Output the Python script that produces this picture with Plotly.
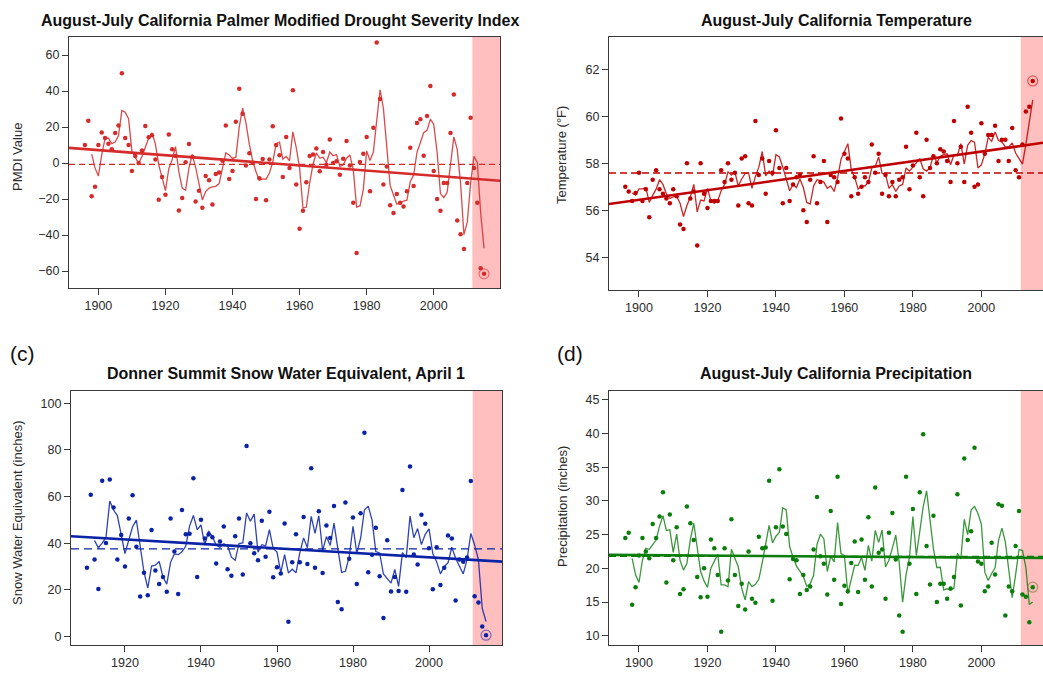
import numpy as np
import pandas as pd
import plotly.graph_objects as go

# ---------------- data ----------------
years_pmdi = list(range(1896, 2016))
pmdi = [10.0, 23.5, -18.5, -13.1, 10.0, 17.0, 13.9, 10.7, 7.6, 16.7,
        20.9, 49.8, 13.9, 10.0, -4.4, 3.9, 0.0, 6.9, 20.6, 14.3,
        15.4, 1.9, -20.4, -7.8, -17.6, 15.9, 7.6, 3.9, -26.3, -19.4,
        0.4, 10.6, 3.3, -21.3, -15.4, -24.8, -7.2, -9.6, -23.0, -6.1,
        -5.2, 1.3, 20.9, -8.9, -4.4, 23.0, 41.3, 27.4, -1.3, 5.4,
        0.0, -20.0, -8.5, 2.2, -20.7, 1.9, 20.4, 10.0, 4.3, -7.8,
        14.4, -2.8, 40.4, -11.9, -36.5, -26.5, -10.7, 3.9, 4.8, 8.1,
        -4.6, 6.1, -1.0, 13.1, 0.0, 1.0, -6.5, 2.4, 12.2, -1.3,
        -22.0, -50.0, 0.6, 5.2, 14.4, -15.6, 19.6, 66.9, 35.6, -11.9,
        -1.9, -23.5, -27.8, -17.2, -22.0, -24.1, -15.7, 8.5, -12.8, 22.2,
        24.3, 4.1, 26.1, 42.8, -4.4, -20.0, -26.5, -11.1, -11.1, 16.7,
        38.0, -31.9, -39.6, -47.8, -11.1, 25.2, -2.8, -22.0, -58.5, -61.5]

years_temp = list(range(1896, 2016))
temp = [57.0, 56.8, 56.4, 56.74, 57.6, 56.4, 56.9, 55.7, 57.3, 57.7,
        56.9, 56.7, 56.5, 56.3, 56.9, 56.6, 55.4, 55.2, 58.0, 56.5,
        56.8, 54.5, 58.0, 56.7, 56.1, 56.4, 56.4, 56.4, 57.7, 57.2,
        58.0, 57.3, 57.6, 56.2, 58.2, 58.3, 56.3, 56.2, 59.8, 57.5,
        58.2, 56.7, 58.1, 57.6, 59.4, 57.8, 56.3, 57.8, 56.4, 57.1,
        57.4, 57.5, 56.0, 55.5, 57.3, 58.3, 56.3, 57.2, 58.1, 55.5,
        57.5, 57.4, 57.2, 59.9, 58.4, 58.2, 56.6, 57.4, 56.7, 57.0,
        57.4, 57.2, 58.8, 57.6, 58.4, 56.7, 57.5, 56.6, 57.2, 56.6,
        57.3, 57.4, 58.7, 56.9, 57.9, 59.3, 57.4, 56.6, 59.0, 57.8,
        58.3, 58.0, 58.6, 58.5, 58.1, 57.2, 59.8, 58.0, 58.7, 57.2,
        60.4, 59.3, 57.0, 57.1, 59.7, 58.4, 59.2, 59.2, 59.6, 58.1,
        59.0, 59.0, 58.1, 59.5, 57.7, 57.4, 58.8, 60.2, 60.4, 61.5]

years_swe = list(range(1910, 2016))
swe = [29.5, 60.8, 33.0, 20.3, 66.8, 40.1, 67.3, 55.3, 33.0, 43.5,
       30.0, 50.6, 60.6, 38.5, 17.1, 27.3, 17.7, 45.6, 28.3, 22.5,
       25.5, 19.2, 50.6, 36.4, 18.2, 54.2, 43.8, 44.0, 67.9, 25.5,
       50.0, 42.0, 43.7, 42.5, 31.3, 40.7, 47.2, 28.8, 26.0, 43.0,
       50.6, 26.6, 81.7, 40.0, 35.7, 32.7, 49.6, 34.2, 53.5, 25.4,
       29.7, 27.0, 48.4, 6.3, 31.8, 43.8, 31.8, 51.2, 31.1, 72.2,
       29.4, 53.7, 27.2, 47.6, 42.2, 56.0, 14.7, 11.6, 57.5, 33.3,
       51.0, 22.5, 52.8, 87.4, 27.5, 35.0, 46.6, 25.8, 7.9, 41.3,
       19.3, 25.5, 19.5, 62.8, 19.1, 72.9, 35.1, 30.8, 52.2, 48.3,
       37.8, 20.2, 38.2, 22.1, 29.4, 43.3, 42.0, 15.4, 33.0, 32.0,
       33.8, 66.7, 17.2, 14.5, 4.2, 0.5]

years_prcp = list(range(1896, 2016))
prcp = [24.5, 25.3, 14.6, 17.2, 21.9, 24.5, 22.5, 21.5, 26.6, 24.5,
        27.7, 31.3, 17.9, 28.0, 21.2, 26.1, 16.2, 16.9, 29.2, 26.7,
        24.2, 18.7, 15.7, 20.0, 15.8, 24.3, 23.0, 19.0, 10.6, 23.0,
        18.2, 27.3, 19.0, 14.4, 17.7, 13.9, 22.5, 15.5, 14.9, 24.7,
        23.0, 23.1, 33.0, 15.2, 26.1, 34.7, 26.2, 25.1, 18.4, 21.4,
        21.2, 16.2, 19.0, 16.8, 17.3, 22.8, 30.6, 21.8, 20.7, 16.1,
        28.5, 18.3, 33.6, 14.7, 17.4, 16.6, 20.8, 24.0, 16.5, 24.3,
        18.3, 27.6, 17.3, 32.0, 22.3, 22.8, 15.5, 25.3, 28.2, 21.3,
        13.0, 10.6, 33.6, 20.7, 28.8, 16.2, 31.3, 39.9, 23.3, 17.6,
        27.8, 15.0, 17.7, 17.7, 15.5, 17.0, 18.7, 31.0, 14.5, 36.3,
        24.2, 25.5, 37.9, 21.0, 20.7, 16.6, 17.3, 23.8, 19.1, 29.5,
        29.3, 13.0, 17.3, 16.6, 23.3, 28.5, 16.1, 15.8, 12.0, 17.2]

titles = ["August-July California Palmer Modified Drought Severity Index",
          "August-July California Temperature",
          "Donner Summit Snow Water Equivalent, April 1",
          "August-July California Precipitation"]
ytitles = ["PMDI Value", "Temperature (°F)",
           "Snow Water Equivalent (inches)", "Precipitation (inches)"]
drought_start = 2011.5

# ---------------- layout helpers ----------------
W, H = 1043, 673
FONT = "Liberation Sans, Arial, Helvetica, sans-serif"
TXT = "#2b2b2b"
FRAME = "#3a3a3a"


def fx(p):
    return p / W


def fy(p):
    return 1 - p / H


panels = [
    dict(x=years_pmdi, y=pmdi, c="#d52b2b", lc="rgba(213,43,43,0.85)",
         cc="rgba(213,43,43,0.55)", dash="6px,4px",
         xd=(69, 500), yd=(37, 288), xr=(1891.24, 2019.76), yr=(-69.4, 70.0),
         tv=list(range(-60, 61, 20)), xt=list(range(1900, 2001, 20)),
         tpos=(280, 20), ypos=(17, 157), mirror=True),
    dict(x=years_temp, y=temp, c="#c00000", lc="rgba(192,0,0,0.85)",
         cc="rgba(192,0,0,0.55)", dash="7px,4px",
         xd=(609, 1043), yd=(37, 290), xr=(1891.24, 2018.0), yr=(52.61, 63.37),
         tv=list(range(54, 63, 2)), xt=list(range(1900, 2001, 20)),
         tpos=(836, 20), ypos=(562, 155), mirror=False),
    dict(x=years_swe, y=swe, c="#0a22a6", lc="rgba(10,34,166,0.85)",
         cc="rgba(10,34,166,0.55)", dash="8px,5px",
         xd=(71, 502), yd=(391, 645), xr=(1905.8, 2019.2), yr=(-3.7, 105.3),
         tv=list(range(0, 101, 20)), xt=list(range(1920, 2001, 20)),
         tpos=(286, 373), ypos=(17, 513), mirror=True),
    dict(x=years_prcp, y=prcp, c="#0a7d0a", lc="rgba(10,125,10,0.8)",
         cc="rgba(120,110,60,0.6)", dash="7px,4px",
         xd=(609, 1043), yd=(391, 645), xr=(1891.24, 2018.0), yr=(8.62, 46.33),
         tv=list(range(10, 46, 5)), xt=list(range(1900, 2001, 20)),
         tpos=(836, 373), ypos=(562, 507), mirror=False),
]

fig = go.Figure()
layout = dict(width=W, height=H, margin=dict(l=0, r=0, t=0, b=0),
              paper_bgcolor="white", plot_bgcolor="white", showlegend=False,
              font=dict(family=FONT, color=TXT, size=12.5))
annotations = []
shapes = []

for i, p in enumerate(panels):
    k = "" if i == 0 else str(i + 1)
    xa, ya = "x" + k, "y" + k
    xs = np.array(p["x"], dtype=float)
    ys = np.array(p["y"], dtype=float)
    roll = pd.Series(ys).rolling(3).mean().to_numpy()
    slope, icpt = np.polyfit(xs, ys, 1)
    mean = ys.mean()
    xline = np.array([p["xr"][0], 2019.76])

    # running mean line
    fig.add_trace(go.Scatter(x=xs, y=roll, mode="lines", xaxis=xa, yaxis=ya,
                             line=dict(color=p["lc"], width=1.3),
                             hoverinfo="skip"))
    # long-term mean (dashed)
    fig.add_trace(go.Scatter(x=xline, y=[mean, mean], mode="lines",
                             xaxis=xa, yaxis=ya,
                             line=dict(color=p["c"], width=1.3, dash=p["dash"]),
                             hoverinfo="skip"))
    # linear trend
    fig.add_trace(go.Scatter(x=xline, y=icpt + slope * xline, mode="lines",
                             xaxis=xa, yaxis=ya,
                             line=dict(color=p["c"], width=2.6),
                             hoverinfo="skip"))
    # annual points
    fig.add_trace(go.Scatter(x=xs, y=ys, mode="markers", xaxis=xa, yaxis=ya,
                             marker=dict(color=p["c"], size=4.5,
                                         line=dict(width=0))))
    # circled latest year
    fig.add_trace(go.Scatter(x=xs[-1:], y=ys[-1:], mode="markers",
                             xaxis=xa, yaxis=ya,
                             marker=dict(symbol="circle-open", size=10,
                                         color=p["cc"], line=dict(width=1.2))))

    layout["xaxis" + k] = dict(
        domain=[fx(p["xd"][0]), fx(p["xd"][1])], range=list(p["xr"]),
        anchor=ya, tickvals=p["xt"], ticks="outside", ticklen=6, tickwidth=1,
        tickcolor=FRAME, showline=True, linecolor=FRAME, linewidth=1.3,
        mirror=True, showgrid=False, zeroline=False,
        tickfont=dict(family=FONT, size=12.5, color=TXT))
    layout["yaxis" + k] = dict(
        domain=[fy(p["yd"][1]), fy(p["yd"][0])], range=list(p["yr"]),
        anchor=xa, tickvals=p["tv"], ticks="outside", ticklen=6, tickwidth=1,
        tickcolor=FRAME, showline=True, linecolor=FRAME, linewidth=1.3,
        mirror=p["mirror"], showgrid=False, zeroline=False,
        tickfont=dict(family=FONT, size=12.5, color=TXT))

    shapes.append(dict(type="rect", xref=xa, yref=ya + " domain",
                       x0=drought_start, x1=p["xr"][1] + 5, y0=0, y1=1,
                       fillcolor="#ffbfbf", line=dict(width=0), layer="below"))

    annotations.append(dict(text="<b>" + titles[i] + "</b>", xref="paper",
                            yref="paper", x=fx(p["tpos"][0]), y=fy(p["tpos"][1]),
                            xanchor="center", yanchor="middle", showarrow=False,
                            font=dict(family=FONT, size=16, color="#111")))
    annotations.append(dict(text=ytitles[i], xref="paper", yref="paper",
                            x=fx(p["ypos"][0]), y=fy(p["ypos"][1]),
                            xanchor="center", yanchor="middle", textangle=-90,
                            showarrow=False,
                            font=dict(family=FONT, size=13, color=TXT)))

annotations.append(dict(text="(c)", xref="paper", yref="paper", x=fx(22), y=fy(353),
                        xanchor="center", yanchor="middle", showarrow=False,
                        font=dict(family=FONT, size=21, color="#111")))
annotations.append(dict(text="(d)", xref="paper", yref="paper", x=fx(570), y=fy(353),
                        xanchor="center", yanchor="middle", showarrow=False,
                        font=dict(family=FONT, size=21, color="#111")))

layout["annotations"] = annotations
layout["shapes"] = shapes
fig.update_layout(**layout)
fig.write_html(
    "out.html",
    config={"displayModeBar": False},
    post_script="document.body.style.margin='0';document.body.style.overflow='hidden';",
)
